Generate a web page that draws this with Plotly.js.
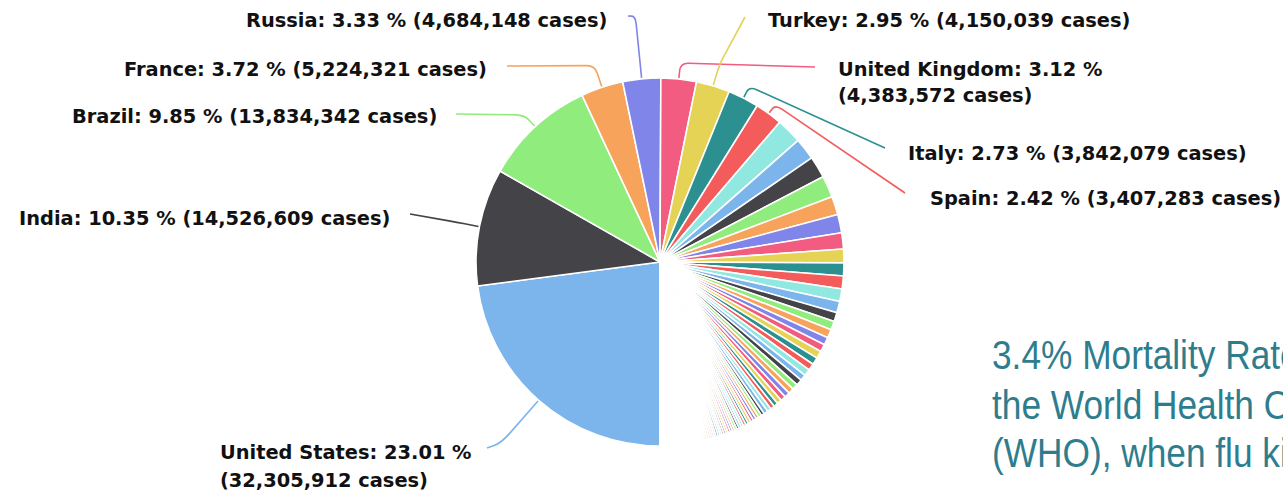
<!DOCTYPE html>
<html><head><meta charset="utf-8">
<script src="https://cdn.plot.ly/plotly-3.0.1.min.js"></script>
<style>html,body{margin:0;padding:0;background:#fff;overflow:hidden}</style>
</head><body><div id="chart" style="width:1283px;height:492px"></div>
<script>
// ---------------- data ----------------
const countries = ["United States","India","Brazil","France","Russia","United Kingdom","Turkey","Italy","Spain",
"Germany","Colombia","Poland","Argentina","Mexico","Iran","Ukraine","Peru","Indonesia","Czechia","South Africa",
"Netherlands","Canada","Chile","Romania","Philippines","Belgium","Iraq","Sweden","Israel","Portugal","Hungary",
"Pakistan","Bangladesh","Jordan","Serbia","Switzerland","Austria","Japan","Lebanon","UAE","Morocco","Saudi Arabia",
"Bulgaria","Slovakia","Malaysia","Ecuador","Panama","Belarus","Kazakhstan","Greece","Croatia","Azerbaijan","Georgia",
"Nepal","Tunisia","Bolivia","Palestine","Dominican Republic","Paraguay","Kuwait","Moldova","Denmark","Ireland",
"Ethiopia","Lithuania","Costa Rica","Slovenia","Egypt","Armenia","Guatemala","Honduras","Qatar","Bosnia and Herzegovina",
"Venezuela","Oman","Libya","Bahrain","Nigeria","Kenya","North Macedonia","Uruguay","Myanmar","Albania","Estonia",
"Algeria","South Korea","Latvia","Norway","Sri Lanka","Montenegro","Kyrgyzstan","China","Ghana","Zambia","Cuba",
"Uzbekistan","Finland","El Salvador","Mozambique","Luxembourg","Cameroon","Singapore","Afghanistan","Cyprus",
"Thailand","Namibia","Jamaica","Botswana","Ivory Coast","Uganda","Senegal","Zimbabwe","Madagascar","Malawi","Sudan",
"Australia","Malta","Mongolia","Maldives","DR Congo","Angola","Rwanda","Gabon","Guinea","Cabo Verde","Syria",
"French Polynesia","Mauritania","Eswatini","Réunion","Guadeloupe","Martinique","French Guiana","Mayotte","Tajikistan",
"Belize","Haiti","Burkina Faso","Somalia","Mali","Togo","Andorra","Suriname","Guyana","Lesotho","Congo","Hong Kong",
"Bahamas","Aruba","Trinidad and Tobago","South Sudan","Curaçao","Djibouti","Equatorial Guinea","Nicaragua","Benin",
"Central African Republic","Iceland","Yemen","Papua New Guinea","Gambia","Niger","San Marino","Chad","Gibraltar",
"Sierra Leone","Saint Lucia","Channel Islands","Comoros","Barbados","Guinea-Bissau","Eritrea","Liechtenstein",
"Vietnam","New Zealand","Monaco","Burundi","Sint Maarten","Turks and Caicos","Sao Tome and Principe","Liberia",
"Saint Martin","Seychelles","Isle of Man","Bhutan","Antigua and Barbuda","Taiwan","Mauritius","Bermuda",
"St. Vincent Grenadines","Faeroe Islands","Cambodia","Caribbean Netherlands","Cayman Islands","Tanzania","Brunei",
"Dominica","Grenada","New Caledonia","Fiji","Laos","Timor-Leste","Saint Kitts and Nevis","Greenland","Vatican City",
"Solomon Islands","Macao","Falkland Islands","Montserrat","Western Sahara","Anguilla","Marshall Islands",
"Wallis and Futuna","Vanuatu","Samoa","Micronesia"];

const cases = [32305912,14526609,13834342,5224321,4684148,4383572,4150039,3842079,3407283,
3150000,2700000,2690000,2660000,2300000,2260000,2000000,1690000,1600000,1600000,1560000,
1400000,1110000,1100000,1040000,940000,940000,930000,890000,837000,831000,760000,
750000,720000,680000,665000,640000,595000,530000,512000,498000,505000,405000,
392000,380000,370000,360000,361000,340000,320000,310000,303000,296000,290000,
283000,283000,282000,278000,257000,250000,255000,250000,243000,242000,
241000,227000,222000,233000,215000,206000,210000,200000,195000,193000,
180000,172000,168000,163000,164000,151000,147000,160000,142000,129000,119000,
118000,113000,108000,106000,98000,96000,90000,90500,91000,90000,92000,
84000,83000,68000,69000,64000,64000,60800,57500,55000,
40500,46500,44000,44000,45000,41000,40000,37500,32000,34000,32000,
29500,30000,22000,26000,29000,24000,24000,22000,21500,19500,21000,
18700,18000,18000,23000,13000,10500,19000,20000,13300,
12600,13000,13000,13000,13000,12000,12800,10000,11500,10700,10200,11700,
9600,10500,8800,10500,11400,10600,7400,6800,7500,
5900,6300,5800,9900,5600,5100,5000,4500,4270,
4000,4400,4100,3800,3700,3600,3500,2900,
2800,2600,2300,3400,2100,2400,2200,2100,
1500,4900,1600,900,1200,1070,1200,2300,
1800,660,5000,1400,540,509,220,
160,160,123,67,60,1000,44,31,27,
20,49,63,20,10,20,4,
4,3,3,1];

// percentages as printed on the labels
const shownPercent = [23.01,10.35,9.85,3.72,3.33,3.12,2.95,2.73,2.42];

const noteLines = ["3.4% Mortality Rate reported by","the World Health Organization","(WHO), when flu kills about 0.1%"];

// ---------------- style / layout ----------------
const palette = ['#7cb5ec','#434348','#90ed7d','#f7a35c','#8085e9','#f15c80','#e4d354','#2b908f','#f45b5b','#91e8e1'];
const W = 1283, H = 492;
const CX = 660, CY = 262, R = 184;

// label placement (pixel positions of label text), connector bend distance
const labelPlacement = [
  {anchor:'left',  x:219, ys:[452,480], d:56, end:[487,448], rr:14},
  {anchor:'right', x:391, ys:[218],     d:22, end:[410,214]},
  {anchor:'right', x:438, ys:[116],     d:15, end:[456,114]},
  {anchor:'right', x:488, ys:[69],      d:22, end:[507,66]},
  {anchor:'right', x:608, ys:[20],      d:62, end:[628,16]},
  {anchor:'left',  x:837, ys:[69,96],   d:15, end:[815,67]},
  {anchor:'left',  x:767, ys:[20],      d:22, end:[745,17]},
  {anchor:'left',  x:907, ys:[153],     d:12, end:[885,148]},
  {anchor:'left',  x:929, ys:[198],     d:10, end:[905,193]}
];

const px = x => x / W;
const py = y => 1 - y / H;
const fmt = n => n.toLocaleString('en-US');

const total = cases.reduce((a,b)=>a+b,0);
const colors = cases.map((_,i)=>palette[i%palette.length]);

// mid angle of each slice (clockwise from 12 o'clock, first slice starts at 6 o'clock)
const ROT = 180;
const midAngle = [];
let cum = 0;
cases.forEach(v => { midAngle.push((ROT + 360*(cum + v/2)/total) * Math.PI/180); cum += v; });

const shapes = [], annotations = [];
const labelFont = {family:'DejaVu Sans, sans-serif', size:19.4, color:'#111', weight:700};

labelPlacement.forEach((p, i) => {
  const th = midAngle[i];
  const ux = Math.sin(th), uy = -Math.cos(th);
  const edge = [CX + (R+1)*ux, CY + (R+1)*uy];
  const elbow = [CX + (R+1+p.d)*ux, CY + (R+1+p.d)*uy];
  const A = p.end;
  const rr = p.rr || 8;
  const toward = (from, to, dist) => {
    const dx = to[0]-from[0], dy = to[1]-from[1], L = Math.hypot(dx,dy) || 1;
    const k = Math.min(dist, L/2)/L;
    return [from[0]+dx*k, from[1]+dy*k];
  };
  const B = toward(elbow, A, rr), D = toward(elbow, edge, rr);
  const P = q => px(q[0]).toFixed(5) + ',' + py(q[1]).toFixed(5);
  shapes.push({type:'path', xref:'paper', yref:'paper',
    path:'M'+P(A)+' L'+P(B)+' Q'+P(elbow)+' '+P(D)+' L'+P(edge),
    line:{color:colors[i], width:1.6}});

  const pct = shownPercent[i].toFixed(2);
  const lines = p.ys.length === 2
    ? [countries[i]+': '+pct+' %', '('+fmt(cases[i])+' cases)']
    : [countries[i]+': '+pct+' % ('+fmt(cases[i])+' cases)'];
  lines.forEach((t, k) => annotations.push({
    xref:'paper', yref:'paper', x:px(p.x), y:py(p.ys[k]), xanchor:p.anchor, yanchor:'middle',
    align:p.anchor, text:t, showarrow:false, font:labelFont, borderpad:0
  }));
});

const noteY = [355, 405, 453];
noteLines.forEach((t,k) => annotations.push({
  xref:'paper', yref:'paper', x:px(991), y:py(noteY[k]), xanchor:'left', yanchor:'middle',
  align:'left', text:t, showarrow:false, borderpad:0, name:'note',
  font:{family:'Liberation Sans Narrow, Arial Narrow, Liberation Sans, sans-serif', size:41, color:'#2e7d8e'}
}));

const trace = {
  type:'pie', labels:countries, values:cases, sort:false, direction:'clockwise', rotation:ROT,
  marker:{colors:colors, line:{color:'#ffffff', width:1.6}},
  textinfo:'none', hoverinfo:'none', showlegend:false,
  domain:{x:[px(CX-R), px(CX+R)], y:[py(CY+R), py(CY-R)]}
};

Plotly.newPlot('chart', [trace], {
  width:W, height:H, margin:{l:0,r:0,t:0,b:0},
  paper_bgcolor:'#fff', plot_bgcolor:'#fff', showlegend:false,
  shapes:shapes, annotations:annotations
}, {staticPlot:true, displayModeBar:false}).then(gd => {
  // the note is set in a narrow face: condense its glyphs horizontally
  gd.querySelectorAll('.annotation-text').forEach(el => {
    if (noteLines.indexOf(el.textContent) >= 0) {
      const w = el.getComputedTextLength();
      el.setAttribute('textLength', (w * 0.86).toFixed(1));
      el.setAttribute('lengthAdjust', 'spacingAndGlyphs');
    }
  });
});
</script></body></html>
